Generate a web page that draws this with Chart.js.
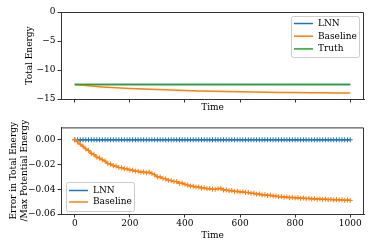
<!DOCTYPE html>
<html>
<head>
<meta charset="utf-8">
<script src="https://cdn.jsdelivr.net/npm/chart.js@4/dist/chart.umd.min.js"></script>
<style>
  html, body { margin: 0; padding: 0; background: #fff; }
  #wrap { position: relative; width: 373px; height: 249px; }
  .box { position: absolute; left: 0; width: 373px; }
</style>
</head>
<body>
<div id="wrap">
  <div class="box" style="top:0;height:120px"><canvas id="energyChart" width="373" height="120"></canvas></div>
  <div class="box" style="top:120px;height:129px"><canvas id="errorChart" width="373" height="129"></canvas></div>
</div>
<script>
// top panel: total energy, sampled every 50 steps
const timeCoarse = [0, 50, 100, 150, 200, 250, 300, 350, 400, 450, 500, 550, 600, 650, 700, 750, 800, 850, 900, 950, 1000];
const lnnEnergy = [-12.5, -12.5, -12.5, -12.5, -12.5, -12.5, -12.5, -12.5, -12.5, -12.5, -12.5, -12.5, -12.5, -12.5, -12.5, -12.5, -12.5, -12.5, -12.5, -12.5, -12.5];
const baselineEnergy = [-12.5, -12.72, -12.92, -13.07, -13.19, -13.28, -13.37, -13.46, -13.54, -13.61, -13.67, -13.72, -13.76, -13.8, -13.84, -13.87, -13.9, -13.92, -13.94, -13.96, -13.97];
const truthEnergy = [-12.5, -12.5, -12.5, -12.5, -12.5, -12.5, -12.5, -12.5, -12.5, -12.5, -12.5, -12.5, -12.5, -12.5, -12.5, -12.5, -12.5, -12.5, -12.5, -12.5, -12.5];

// bottom panel: relative energy error, every 10 steps
const timeFine = [
  0, 10, 20, 30, 40, 50, 60, 70, 80, 90, 100, 110, 120, 130, 140, 150, 160, 170, 180, 190,
  200, 210, 220, 230, 240, 250, 260, 270, 280, 290, 300, 310, 320, 330, 340, 350, 360, 370, 380, 390,
  400, 410, 420, 430, 440, 450, 460, 470, 480, 490, 500, 510, 520, 530, 540, 550, 560, 570, 580, 590,
  600, 610, 620, 630, 640, 650, 660, 670, 680, 690, 700, 710, 720, 730, 740, 750, 760, 770, 780, 790,
  800, 810, 820, 830, 840, 850, 860, 870, 880, 890, 900, 910, 920, 930, 940, 950, 960, 970, 980, 990, 1000
];
const lnnError = [
  0, 0, 0, 0, 0, 0, 0, 0, 0, 0, 0, 0, 0, 0, 0, 0, 0, 0, 0, 0,
  0, 0, 0, 0, 0, 0, 0, 0, 0, 0, 0, 0, 0, 0, 0, 0, 0, 0, 0, 0,
  0, 0, 0, 0, 0, 0, 0, 0, 0, 0, 0, 0, 0, 0, 0, 0, 0, 0, 0, 0,
  0, 0, 0, 0, 0, 0, 0, 0, 0, 0, 0, 0, 0, 0, 0, 0, 0, 0, 0, 0,
  0, 0, 0, 0, 0, 0, 0, 0, 0, 0, 0, 0, 0, 0, 0, 0, 0, 0, 0, 0, 0
];
const baselineError = [
  0, -0.0016, -0.0036, -0.0052, -0.0074, -0.0086, -0.011, -0.012, -0.014, -0.0148,
  -0.0162, -0.0172, -0.0192, -0.0196, -0.021, -0.0213, -0.0224, -0.0226, -0.0234, -0.0236,
  -0.0244, -0.0246, -0.0254, -0.0254, -0.0262, -0.026, -0.0267, -0.0262, -0.0272, -0.0283,
  -0.03, -0.03, -0.0312, -0.0316, -0.0328, -0.033, -0.0338, -0.0338, -0.0352, -0.035,
  -0.036, -0.0366, -0.0374, -0.0376, -0.0382, -0.0382, -0.039, -0.0388, -0.0396, -0.0394,
  -0.04, -0.04, -0.0396, -0.0392, -0.0406, -0.0406, -0.0412, -0.041, -0.0418, -0.0416,
  -0.0422, -0.042, -0.0426, -0.0426, -0.0432, -0.0432, -0.044, -0.0438, -0.0446, -0.0444,
  -0.045, -0.0448, -0.0454, -0.0454, -0.046, -0.0458, -0.0464, -0.0462, -0.0468, -0.0465,
  -0.047, -0.0468, -0.0474, -0.0471, -0.0476, -0.0473, -0.0479, -0.0476, -0.0481, -0.0478,
  -0.0483, -0.0479, -0.0484, -0.0481, -0.0486, -0.0483, -0.0486, -0.0485, -0.049, -0.0487, -0.049
];

const timeTicks = [0, 200, 400, 600, 800, 1000];
const energyTicks = [-15, -10, -5, 0];
const errorTicks = [-0.06, -0.04, -0.02, 0];

const BLUE = '#1f77b4', ORANGE = '#ff7f0e', GREEN = '#2ca02c';
const FONT = { family: "'DejaVu Serif', serif", size: 9 };
const SPINE = '#333';

function pts(xs, ys) {
  return xs.map((x, i) => ({ x: x, y: ys[i] }));
}
function minus(s) {
  return String(s).replace('-', '\u2212');
}

// top + right spines and a matplotlib-like legend box
const framePlugin = {
  id: 'frame',
  afterDraw(chart, args, opts) {
    const ctx = chart.ctx;
    const a = chart.chartArea;
    ctx.save();
    ctx.strokeStyle = SPINE;
    ctx.lineWidth = 1;
    ctx.beginPath();
    ctx.moveTo(a.left, a.top + 0.5);
    ctx.lineTo(a.right - 0.5, a.top + 0.5);
    ctx.lineTo(a.right - 0.5, a.bottom);
    ctx.stroke();

    const lg = opts.legend;
    if (lg) {
      ctx.fillStyle = 'rgba(255,255,255,0.8)';
      ctx.strokeStyle = '#cccccc';
      ctx.lineWidth = 1;
      ctx.beginPath();
      ctx.roundRect(lg.x + 0.5, lg.y + 0.5, lg.w, lg.h, 2);
      ctx.fill();
      ctx.stroke();
      ctx.font = FONT.size + 'px ' + FONT.family;
      ctx.textBaseline = 'middle';
      chart.data.datasets.forEach((ds, i) => {
        const y = lg.y + lg.first + i * lg.gap;
        ctx.strokeStyle = ds.borderColor;
        ctx.lineWidth = 1.5;
        ctx.beginPath();
        ctx.moveTo(lg.x + 3, y);
        ctx.lineTo(lg.x + 22, y);
        ctx.stroke();
        ctx.fillStyle = '#000';
        ctx.fillText(ds.label, lg.x + 27, y);
      });
    }
    ctx.restore();
  }
};

function xScale(showLabels, height) {
  return {
    type: 'linear', min: -50, max: 1050,
    afterBuildTicks: s => { s.ticks = timeTicks.map(v => ({ value: v })); },
    afterFit: s => { s.height = height; },
    grid: { drawOnChartArea: false, tickLength: 3.5, color: SPINE },
    border: { color: SPINE, width: 1 },
    ticks: { display: showLabels, padding: 1, color: '#000', font: FONT, maxRotation: 0, callback: v => String(v) },
    title: { display: true, text: 'Time', color: '#000', font: FONT, padding: 0 }
  };
}

function yScale(min, max, tickList, fmt, title, width) {
  return {
    type: 'linear', min: min, max: max,
    afterBuildTicks: s => { s.ticks = tickList.map(v => ({ value: v })); },
    afterFit: s => { s.width = width; },
    grid: { drawOnChartArea: false, tickLength: 3.5, color: SPINE },
    border: { color: SPINE, width: 1 },
    ticks: { padding: 2, color: '#000', font: FONT, callback: v => minus(fmt(v)) },
    title: { display: true, text: title, color: '#000', font: FONT, padding: 0 }
  };
}

const energyChart = new Chart(document.getElementById('energyChart'), {
  type: 'line',
  data: {
    datasets: [
      { label: 'LNN', data: pts(timeCoarse, lnnEnergy), borderColor: BLUE, borderWidth: 1.5, pointRadius: 0, order: 3 },
      { label: 'Baseline', data: pts(timeCoarse, baselineEnergy), borderColor: ORANGE, borderWidth: 1.5, pointRadius: 0, order: 2 },
      { label: 'Truth', data: pts(timeCoarse, truthEnergy), borderColor: GREEN, borderWidth: 1.5, pointRadius: 0, order: 1 }
    ]
  },
  options: {
    responsive: false,
    animation: false,
    layout: { padding: { left: 24, top: 12, right: 9, bottom: 7 } },
    plugins: {
      legend: { display: false },
      tooltip: { enabled: false },
      frame: { legend: { x: 291, y: 16, w: 68, h: 41, first: 7.5, gap: 12.7 } }
    },
    scales: {
      x: xScale(false, 14),
      y: yScale(-15, 0, energyTicks, v => String(v), 'Total Energy', 37)
    }
  },
  plugins: [framePlugin]
});

const errorChart = new Chart(document.getElementById('errorChart'), {
  type: 'line',
  data: {
    datasets: [
      { label: 'LNN', data: pts(timeFine, lnnError), borderColor: BLUE, backgroundColor: BLUE, borderWidth: 1.5,
        pointStyle: 'cross', pointRadius: 2.5, pointBorderWidth: 1, order: 2 },
      { label: 'Baseline', data: pts(timeFine, baselineError), borderColor: ORANGE, backgroundColor: ORANGE, borderWidth: 1.5,
        pointStyle: 'cross', pointRadius: 2.5, pointBorderWidth: 1, order: 1 }
    ]
  },
  options: {
    responsive: false,
    animation: false,
    layout: { padding: { left: 8, top: 7, right: 9, bottom: 8 } },
    plugins: {
      legend: { display: false },
      tooltip: { enabled: false },
      frame: { legend: { x: 66, y: 62, w: 68, h: 29, first: 8.5, gap: 11.5 } }
    },
    scales: {
      x: xScale(true, 27),
      y: yScale(-0.06, 0.01, errorTicks, v => v.toFixed(2), ['Error in Total Energy', '/Max Potential Energy'], 53)
    }
  },
  plugins: [framePlugin]
});
</script>
</body>
</html>
